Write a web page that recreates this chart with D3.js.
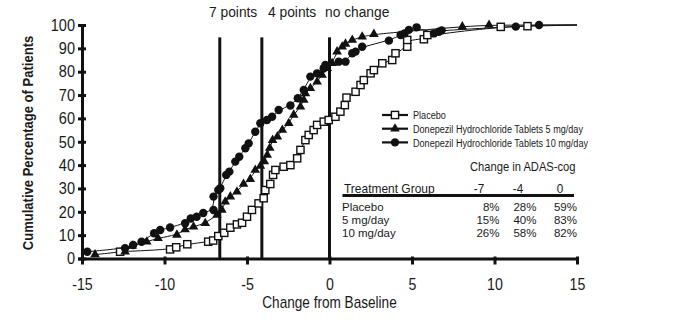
<!DOCTYPE html>
<html>
<head>
<meta charset="utf-8">
<script src="https://cdn.jsdelivr.net/npm/d3@7"></script>
<style>
  body { margin: 0; background: #fff; }
  svg text { font-family: "Liberation Sans", Arial, sans-serif; fill: #1a1a1a; }
</style>
</head>
<body>
<div id="chart"></div>
<script>
var width = 687, height = 320;

// change from baseline (x) vs cumulative % of patients (y)
var placebo = [[-12.69,2.9],[-9.66,3.9],[-9.29,4.8],[-8.62,6.1],[-7.35,7.2],[-7.05,7.7],[-6.74,9.6],
  [-6.38,11.0],[-6.01,13.2],[-5.61,14.6],[-5.30,15.3],[-5.0,17.9],[-4.70,20.8],[-4.30,23.6],[-3.99,25.8],
  [-3.89,29.3],[-3.59,31.9],[-3.42,35.8],[-3.28,37.9],[-2.78,39.3],[-2.37,40.0],[-1.96,42.9],[-1.76,46.5],
  [-1.46,50.7],[-1.26,52.9],[-0.96,55.0],[-0.75,57.2],[-0.35,58.6],[-0.05,59.3],[0.36,60.7],[0.66,62.9],
  [0.93,65.7],[1.03,68.9],[1.58,71.4],[1.88,74.3],[2.08,76.4],[2.49,79.3],[2.69,80.7],[3.20,83.6],
  [3.80,85.0],[4.0,87.9],[4.71,90.7],[4.71,93.6],[5.72,93.9],[5.93,95.7],[10.38,99.2],[12.0,99.5]];
var mg5 = [[-14.21,1.7],[-12.39,2.9],[-11.96,5.4],[-11.07,7.2],[-10.39,8.7],[-9.25,10.1],[-8.75,12.4],
  [-8.24,13.6],[-7.53,15.1],[-6.82,18.6],[-6.52,20.8],[-6.32,24.3],[-6.01,26.5],[-5.61,28.6],[-5.21,31.9],
  [-4.80,34.0],[-4.50,37.9],[-4.19,39.6],[-3.95,41.5],[-3.77,44.3],[-3.62,47.3],[-3.45,50.7],[-3.16,52.2],
  [-2.86,55.0],[-2.47,57.9],[-2.17,61.5],[-1.76,65.0],[-1.56,67.9],[-1.46,70.7],[-1.16,72.9],[-0.75,75.7],
  [-0.45,78.6],[-0.14,81.5],[0.16,83.6],[0.46,88.6],[0.77,90.7],[0.97,91.9],[1.38,93.6],[1.98,95.0],
  [2.69,96.1],[8.05,99.3],[9.67,100]];
var mg10 = [[-14.68,2.9],[-12.39,4.4],[-11.90,5.8],[-11.39,7.2],[-10.63,10.8],[-10.26,12.2],[-9.66,13.3],
  [-8.75,15.1],[-8.41,17.1],[-8.05,17.9],[-7.65,19.5],[-7.03,20.8],[-7.03,26.5],[-6.74,29.3],[-6.62,30.1],
  [-6.26,35.8],[-6.07,37.2],[-5.71,41.5],[-5.47,43.6],[-5.10,47.2],[-4.90,49.3],[-4.50,54.3],[-4.19,57.9],
  [-3.79,59.3],[-3.48,60.7],[-3.08,63.6],[-2.37,65.5],[-1.92,68.6],[-1.56,72.2],[-1.16,77.9],[-0.75,79.3],
  [-0.35,81.5],[-0.25,82.9],[0.56,84.3],[0.97,84.3],[1.38,87.9],[1.58,88.6],[1.98,90.7],[3.60,93.3],
  [4.31,95.7],[4.55,96.4],[4.81,97.9],[5.28,99.0],[6.33,96.4],[6.63,97.1],[6.80,97.7],[11.29,99.3],[12.70,100]];
var curveTail = [15, 100];

var xTicks = [-15, -10, -5, 0, 5, 10, 15];
var yTicks = [0, 10, 20, 30, 40, 50, 60, 70, 80, 90, 100];
var refLines = [-6.65, -4.1, 0];
var refTop = 94.7;
var refLabels = ["7 points", "4 points", "no change"];

var legendNames = ["Placebo", "Donepezil Hydrochloride Tablets 5 mg/day", "Donepezil Hydrochloride Tablets 10 mg/day"];
var tableCols = ["-7", "-4", "0"];
var tableGroups = ["Placebo", "5 mg/day", "10 mg/day"];
var tableValues = [["8%", "28%", "59%"], ["15%", "40%", "83%"], ["26%", "58%", "82%"]];

var svg = d3.select("#chart").append("svg")
  .attr("width", width)
  .attr("height", height);

var x = d3.scaleLinear().domain([-15, 15]).range([82, 577]);
var y = d3.scaleLinear().domain([0, 100]).range([258.5, 25]);

// no condensed font installed, so squeeze the regular one horizontally
function addText(parent, tx, ty, str, size, opts) {
  opts = opts || {};
  var k = opts.k || 0.87;
  var rot = opts.rotate ? " rotate(" + opts.rotate + ")" : "";
  return parent.append("text")
    .attr("transform", "translate(" + tx + "," + ty + ")" + rot + " scale(" + k + ",1)")
    .attr("text-anchor", opts.anchor || "start")
    .attr("font-size", size + "px")
    .attr("font-weight", opts.bold ? "bold" : null)
    .text(str);
}

// reference lines
svg.selectAll(".ref").data(refLines).enter().append("line")
  .attr("x1", d => x(d)).attr("x2", d => x(d))
  .attr("y1", y(refTop)).attr("y2", y(0))
  .attr("stroke", "#111").attr("stroke-width", 3);

// labels above the reference lines
var labelX = [209, 268, 325];
refLabels.forEach(function(d, i) {
  addText(svg, labelX[i], 17, d, 15.5, {k: 0.89});
});

// axes
var yAxis = svg.append("g")
  .attr("transform", "translate(" + x(-15) + ",0)")
  .call(d3.axisLeft(y).tickValues(yTicks).tickFormat(d => String(d)).tickSizeOuter(0).tickSize(4));
var xAxis = svg.append("g")
  .attr("transform", "translate(0," + y(0) + ")")
  .call(d3.axisBottom(x).tickValues(xTicks).tickFormat(d => String(d)).tickSizeOuter(0).tickSize(4));

[yAxis, xAxis].forEach(function(g) {
  g.select(".domain").attr("stroke", "#111").attr("stroke-width", 3);
  g.selectAll(".tick line").attr("stroke", "#111").attr("stroke-width", 3);
  g.selectAll(".tick text").attr("font-size", "16.5px").attr("fill", "#1a1a1a")
    .attr("font-family", null);
});
yAxis.selectAll(".tick line").attr("x1", -4).attr("x2", 4);
yAxis.selectAll(".tick text").attr("x", 0).attr("transform", "translate(-7,0) scale(0.88,1)");
xAxis.selectAll(".tick line").attr("y1", -2).attr("y2", 6);
xAxis.selectAll(".tick text").attr("y", 31.5).attr("dy", 0).attr("transform", "scale(0.86,1)");

// axis titles
addText(svg, x(0), 308, "Change from Baseline", 16, {anchor: "middle", k: 0.85});
addText(svg, 33, 143, "Cumulative Percentage of Patients", 14.5, {anchor: "middle", k: 0.9, rotate: -90, bold: true});

// curves
var line = d3.line().x(d => x(d[0])).y(d => y(d[1])).curve(d3.curveBasis);
[placebo, mg5, mg10].forEach(function(s) {
  svg.append("path")
    .datum(s.concat([curveTail]))
    .attr("d", line)
    .attr("fill", "none")
    .attr("stroke", "#111")
    .attr("stroke-width", 1);
});

function drawSquare(g, cx, cy) {
  g.append("rect").attr("x", cx - 3.6).attr("y", cy - 3.6).attr("width", 7.2).attr("height", 7.2)
    .attr("fill", "#fff").attr("stroke", "#111").attr("stroke-width", 1.4);
}
function drawTri(g, cx, cy) {
  g.append("path").attr("transform", "translate(" + cx + "," + cy + ")")
    .attr("d", d3.symbol().type(d3.symbolTriangle).size(40)())
    .attr("fill", "#111");
}
function drawDot(g, cx, cy) {
  g.append("circle").attr("cx", cx).attr("cy", cy).attr("r", 4.2).attr("fill", "#111");
}
var markers = [drawSquare, drawTri, drawDot];

var pts = svg.append("g");
[placebo, mg5, mg10].forEach(function(s, i) {
  s.forEach(function(d) { markers[i](pts, x(d[0]), y(d[1])); });
});

// legend
var legend = svg.append("g");
legendNames.forEach(function(name, i) {
  var ly = 115 + i * 13.7;
  legend.append("line").attr("x1", 382).attr("x2", 408).attr("y1", ly).attr("y2", ly)
    .attr("stroke", "#111").attr("stroke-width", 2.2);
  markers[i](legend, 395, ly);
  addText(legend, 413, ly + 4.2, name, 11.5, {k: 0.79});
});

// table
var table = svg.append("g");
var colX = [499.5, 536.5, 577];
var headX = [479, 518, 560];
addText(table, 470, 170.5, "Change in ADAS-cog", 13, {k: 0.86});
addText(table, 344, 192.5, "Treatment Group", 13, {k: 0.92});
tableCols.forEach(function(d, i) {
  addText(table, headX[i], 192.5, d, 13, {anchor: "middle", k: 0.9});
});
table.append("line").attr("x1", 342.5).attr("x2", 574).attr("y1", 195.5).attr("y2", 195.5)
  .attr("stroke", "#111").attr("stroke-width", 3);
tableGroups.forEach(function(g, i) {
  var ry = 211 + i * 13;
  addText(table, 342, ry, g, 11.5, {k: 1.0});
  tableValues[i].forEach(function(v, j) {
    addText(table, colX[j], ry, v, 11.5, {anchor: "end", k: 1.0});
  });
});
</script>
</body>
</html>
